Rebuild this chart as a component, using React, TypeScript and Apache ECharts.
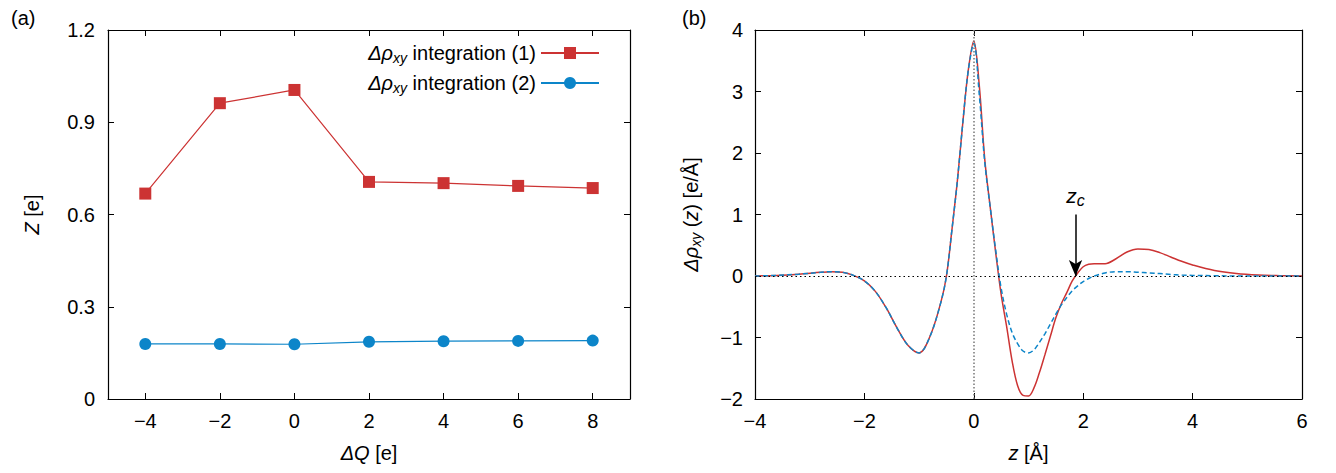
import React, { useEffect, useRef } from "react";
import * as echarts from "echarts";

// ---------- Panel (a) data ----------
const chargeX = [-4, -2, 0, 2, 4, 6, 8];
const integ1 = [0.668, 0.962, 1.005, 0.706, 0.702, 0.693, 0.686];
const integ2 = [0.179, 0.179, 0.178, 0.186, 0.188, 0.189, 0.19];
const aXTicks = [-4, -2, 0, 2, 4, 6, 8];
const aYTicks = [0, 0.3, 0.6, 0.9, 1.2];

// ---------- Panel (b) data ----------
const zGrid = [
  -4, -3.6, -3.2, -2.8, -2.6, -2.4, -2.2, -2.0, -1.8, -1.6, -1.4, -1.2, -1.0, -0.8, -0.6, -0.5,
  -0.4, -0.3, -0.2, -0.1, 0, 0.1, 0.2, 0.3, 0.4, 0.5, 0.6, 0.7, 0.8, 0.9, 1.0, 1.1, 1.2, 1.3,
  1.4, 1.5, 1.6, 1.7, 1.8, 1.9, 2.0, 2.1, 2.2, 2.4, 2.6, 2.8, 3.0, 3.2, 3.4, 3.6, 3.8, 4.0,
  4.4, 4.8, 5.2, 5.6, 6.0,
];
const rhoRed = [
  0, 0.01, 0.03, 0.06, 0.07, 0.06, 0.01, -0.08, -0.25, -0.52, -0.85, -1.13, -1.25, -0.98, -0.42, 0.0,
  0.75, 1.55, 2.5, 3.35, 3.82, 3.1, 1.9, 1.12, 0.38, -0.3, -0.82, -1.38, -1.78, -1.94, -1.95, -1.82, -1.57, -1.28,
  -0.98, -0.68, -0.45, -0.27, -0.08, 0.05, 0.15, 0.19, 0.2, 0.2, 0.28, 0.39, 0.44, 0.43, 0.38, 0.31, 0.24, 0.18,
  0.09, 0.04, 0.015, 0.005, 0,
];
const rhoBlue = [
  0, 0.01, 0.03, 0.06, 0.07, 0.06, 0.01, -0.08, -0.25, -0.52, -0.85, -1.13, -1.25, -0.98, -0.42, 0.0,
  0.75, 1.55, 2.5, 3.35, 3.78, 2.95, 1.85, 1.12, 0.42, -0.2, -0.62, -0.92, -1.1, -1.22, -1.25, -1.2, -1.08, -0.94,
  -0.78, -0.62, -0.47, -0.35, -0.24, -0.16, -0.09, -0.04, 0.0, 0.05, 0.07, 0.07, 0.06, 0.05, 0.04, 0.025, 0.015, 0.01,
  0.005, 0, 0, 0, 0,
];
const zc = 1.86;
const zcArrowTop = 1.0;

const RED = "#cc3333";
const BLUE = "#0c85c9";
const FONT = "'Liberation Sans', Arial, Helvetica, sans-serif";
const FS = 20;

const sub = { fontSize: 14, fontStyle: "italic" as const, fontFamily: FONT, color: "#000", padding: [10, 0, 0, 0] };
const ital = { fontSize: FS, fontStyle: "italic" as const, fontFamily: FONT, color: "#000" };
const norm = { fontSize: FS, fontFamily: FONT, color: "#000" };
const lineStyleAxis = { color: "#000", width: 1.2 };

function mirrorAxes(gridIndex: number, min: number, max: number, interval: number | null, custom: number[] | null, isX: boolean) {
  const base: any = {
    type: "value",
    gridIndex,
    min,
    max,
    position: isX ? "top" : "right",
    axisLine: { show: true, onZero: false, lineStyle: lineStyleAxis },
    axisTick: { show: true, inside: true, length: 6, lineStyle: { color: "#000", width: 1 } },
    axisLabel: { show: false },
    splitLine: { show: false },
  };
  if (interval != null) base.interval = interval;
  if (custom) base.axisTick.customValues = custom;
  return base;
}

const fmtMinus = (v: number) => String(v).replace("-", "\u2212");

export default function App() {
  const ref = useRef<HTMLDivElement>(null);
  useEffect(() => {
    if (!ref.current) return;
    const chart = echarts.init(ref.current, null, { renderer: "svg" });
    const axisCommon = {
      axisLine: { show: true, onZero: false, lineStyle: lineStyleAxis },
      axisTick: { show: true, inside: true, length: 6, lineStyle: { color: "#000", width: 1 } },
      splitLine: { show: false },
    };
    const labelCommon = { fontSize: FS, fontFamily: FONT, color: "#000" };
    const option: any = {
      animation: false,
      backgroundColor: "#fff",
      title: [
        { text: "(a)", left: 6, top: 3, textStyle: { fontSize: FS, fontWeight: "normal", fontFamily: FONT, color: "#000" } },
        { text: "(b)", left: 677, top: 3, textStyle: { fontSize: FS, fontWeight: "normal", fontFamily: FONT, color: "#000" } },
      ],
      grid: [
        { left: 108, right: 706, top: 30, bottom: 74 },
        { left: 755, right: 34, top: 30, bottom: 74 },
      ],
      legend: {
        orient: "vertical",
        right: 731,
        top: 38,
        align: "right",
        itemWidth: 58,
        itemHeight: 15,
        itemGap: 8,
        data: ["int1", "int2"],
        formatter: (name: string) =>
          name === "int1"
            ? "{i|Δρ}{s|xy}{n| integration (1)}"
            : "{i|Δρ}{s|xy}{n| integration (2)}",
        textStyle: {
          rich: { i: ital, s: sub, n: norm },
        },
      },
      xAxis: [
        {
          type: "value",
          gridIndex: 0,
          min: -5,
          max: 9,
          ...axisCommon,
          axisTick: { ...axisCommon.axisTick, customValues: aXTicks },
          axisLabel: { ...labelCommon, customValues: aXTicks, margin: 12, formatter: fmtMinus },
          name: "{i|ΔQ}{n| [e]}",
          nameLocation: "middle",
          nameGap: 44,
          nameTextStyle: { rich: { i: ital, n: norm } },
        },
        mirrorAxes(0, -5, 9, null, aXTicks, true),
        {
          type: "value",
          gridIndex: 1,
          min: -4,
          max: 6,
          interval: 2,
          ...axisCommon,
          axisLabel: { ...labelCommon, margin: 12, formatter: fmtMinus },
          name: "{i|z}{n| [Å]}",
          nameLocation: "middle",
          nameGap: 44,
          nameTextStyle: { rich: { i: ital, n: norm } },
        },
        mirrorAxes(1, -4, 6, 2, null, true),
      ],
      yAxis: [
        {
          type: "value",
          gridIndex: 0,
          min: 0,
          max: 1.2,
          interval: 0.3,
          ...axisCommon,
          axisTick: { ...axisCommon.axisTick, customValues: aYTicks },
          axisLabel: {
            ...labelCommon,
            customValues: aYTicks,
            margin: 13,
            formatter: (v: number) => (v === 0 ? "0" : v.toFixed(1)),
          },
          name: "{i|Z}{n| [e]}",
          nameLocation: "middle",
          nameRotate: 90,
          nameGap: 66,
          nameTextStyle: { rich: { i: ital, n: norm } },
        },
        mirrorAxes(0, 0, 1.2, null, aYTicks, false),
        {
          type: "value",
          gridIndex: 1,
          min: -2,
          max: 4,
          interval: 1,
          ...axisCommon,
          axisLabel: { ...labelCommon, margin: 12, formatter: fmtMinus },
          name: "{i|Δρ}{s|xy}{n| (}{i|z}{n|) [e/Å]}",
          nameLocation: "middle",
          nameRotate: 90,
          nameGap: 52,
          nameTextStyle: { rich: { i: ital, s: sub, n: norm } },
        },
        mirrorAxes(1, -2, 4, 1, null, false),
      ],
      series: [
        {
          name: "int1",
          type: "line",
          xAxisIndex: 0,
          yAxisIndex: 0,
          data: chargeX.map((x, i) => [x, integ1[i]]),
          symbol: "rect",
          symbolSize: 12,
          itemStyle: { color: RED },
          lineStyle: { color: RED, width: 1.2 },
        },
        {
          name: "int2",
          type: "line",
          xAxisIndex: 0,
          yAxisIndex: 0,
          data: chargeX.map((x, i) => [x, integ2[i]]),
          symbol: "circle",
          symbolSize: 12,
          itemStyle: { color: BLUE },
          lineStyle: { color: BLUE, width: 1.2 },
        },
        {
          name: "rhoRed",
          type: "line",
          xAxisIndex: 2,
          yAxisIndex: 2,
          data: zGrid.map((z, i) => [z, rhoRed[i]]),
          showSymbol: false,
          smooth: 0.35,
          lineStyle: { color: RED, width: 1.5 },
          z: 3,
          markLine: {
            silent: true,
            symbol: ["none", "none"],
            label: { show: false },
            data: [
              { yAxis: 0, lineStyle: { color: "#000", type: [1.5, 3], width: 1.2 } },
              { xAxis: 0, lineStyle: { color: "#777", type: [1.5, 2], width: 1.5 } },
            ],
          },
        },
        {
          name: "rhoBlue",
          type: "line",
          xAxisIndex: 2,
          yAxisIndex: 2,
          data: zGrid.map((z, i) => [z, rhoBlue[i]]),
          showSymbol: false,
          smooth: 0.35,
          lineStyle: { color: BLUE, width: 1.5, type: [5, 3] },
          z: 4,
          markLine: {
            silent: true,
            symbol: ["none", "arrow"],
            symbolSize: [10, 16],
            lineStyle: { color: "#000", type: "solid", width: 1.5 },
            label: {
              show: true,
              position: "start",
              distance: 6,
              formatter: "{i|z}{s|c}",
              rich: { i: { ...ital, fontSize: 21 }, s: { ...sub, fontSize: 16, padding: [11, 0, 0, 0] } },
            },
            data: [[{ coord: [zc, zcArrowTop] }, { coord: [zc, 0] }]],
          },
        },
      ],
    };
    chart.setOption(option);
    return () => chart.dispose();
  }, []);
  return (
    <div
      ref={ref}
      style={{ position: "fixed", left: 0, top: 0, width: 1336, height: 473, background: "#fff" }}
    />
  );
}
